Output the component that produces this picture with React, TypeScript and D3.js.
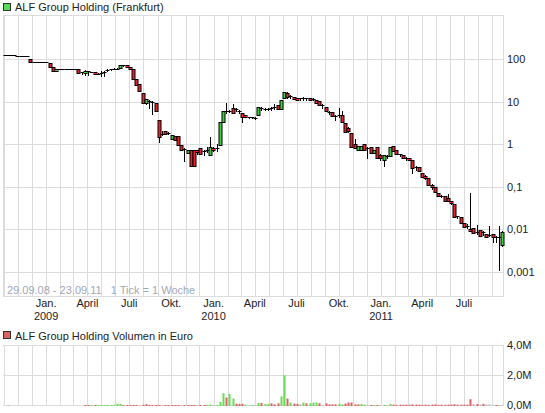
import React from "react";
import * as d3 from "d3";

const W = 545;
const H = 413;

// weekly candles, first week starting 29.09.2008
const startDate = new Date(2008, 8, 29);
const endDate = new Date(2011, 8, 24);

const open = [
  125,125,125,125,122,120,118,117,101,86,86,86,86,86,80,65,54,60,60,60,60,60,60,60,49,47,52,50,51,45,
  47,49,54,58,59,60,62,73,72,66,58,34,26,16,9.4,10.5,10,9.5,3.7,1.7,2.1,1.8,1.3,1.6,1.6,0.97,0.78,0.61,0.74,0.72,
  0.74,0.83,0.7,0.7,0.55,0.8,0.8,0.97,3.4,6.2,5.8,7.0,6.5,6.2,5.5,4.9,4.3,4.3,4.2,4.9,7.2,6.8,6.7,6.8,7.2,8.2,6.9,12,15.8,13.5,
  13.2,12.3,11.5,12,11.8,12.2,11.5,11,10.5,8.5,7.5,5.6,5.6,4.6,4.9,4.9,3.1,2.4,1.8,1.0,0.74,0.74,1.0,0.8,0.84,0.61,0.84,0.55,0.43,0.52,
  0.53,0.9,0.74,0.59,0.55,0.48,0.48,0.42,0.29,0.29,0.215,0.18,0.16,0.11,0.1,0.072,0.06,0.062,0.053,0.045,0.039,0.02,0.019,0.0143,0.012,0.01,0.0105,0.0085,0.0095,0.0085,
  0.0078,0.0075,0.0078,0.0066,0.0066,0.0042,
];
const high = [
  125,125,128,125,122,120,118,117,101,86,86,86,86,86,80,65,60,60,60,60,60,60,60,60,49,56,54,51,51,47,
  52,52,58,60,61,61,73,75,74,66,58,34,26,16,11.8,11.2,10.2,9.6,3.7,2.0,2.1,1.9,1.65,1.6,1.6,0.97,0.83,0.74,0.74,0.74,
  0.75,0.83,0.74,0.85,1.52,0.88,1.0,3.4,6.1,9.3,6.3,8.9,7.2,6.5,5.5,4.9,4.4,4.5,4.4,7.6,7.7,7.2,7.0,7.4,8.9,8.2,11,17.3,17,14.5,
  13.2,12.3,12.5,12.8,12.6,12.2,12.3,11,10.5,9,7.5,6,5.6,4.8,7.2,6.1,3.1,2.6,1.8,1.3,0.9,0.9,1.0,0.84,0.84,0.74,0.84,0.6,0.56,0.56,
  0.85,0.9,0.74,0.6,0.55,0.5,0.48,0.42,0.31,0.29,0.215,0.19,0.16,0.115,0.1,0.072,0.065,0.062,0.068,0.046,0.039,0.021,0.019,0.0143,0.013,0.07,0.0105,0.0125,0.0095,0.009,
  0.0078,0.012,0.0078,0.0068,0.012,0.0089,
];
const low = [
  125,125,125,125,122,120,118,117,88,86,86,86,86,86,65,54,54,60,60,60,60,60,60,47,46,43,42,49,45,44,
  40,40,53,57,58,59,62,68,65,58,34,25,18,9.5,8.8,7.1,5.1,6.1,1.16,1.65,1.75,1.75,1.3,1.26,0.97,0.75,0.41,0.61,0.31,0.31,
  0.6,0.6,0.57,0.65,0.55,0.68,0.68,0.97,3.4,5.5,5.6,5.5,6.2,5.4,3.4,4.4,4.1,4.1,4.0,4.9,6.4,6.3,6.4,6.4,6.9,6.9,6.9,12,12,12.5,
  11.6,11,10.8,11.2,11.3,11,10.8,9.5,8.4,7.1,6.1,5.2,4.6,3.75,4.5,3.3,1.9,1.9,0.85,0.83,0.74,0.74,0.74,0.48,0.61,0.61,0.47,0.43,0.31,0.48,
  0.53,0.69,0.6,0.52,0.48,0.43,0.43,0.215,0.25,0.23,0.17,0.15,0.11,0.09,0.077,0.059,0.057,0.046,0.046,0.04,0.019,0.018,0.0143,0.0114,0.0105,0.0089,0.008,0.0078,0.0068,0.0075,
  0.0066,0.0068,0.0049,0.0049,0.0011,0.0041,
];
const close = [
  125,125,125,125,122,120,118,117,88,86,86,86,86,86,65,54,60,60,60,60,60,60,60,47,47,52,50,50,45,46,
  47,51,56,59,60,60,72,68,66,58,34,25,18,9.5,11.5,10.2,9.6,6.1,1.5,1.75,1.75,1.78,1.65,1.26,0.97,0.75,0.76,0.74,0.31,0.31,
  0.65,0.6,0.65,0.72,0.86,0.75,0.8,3.4,6.1,5.7,6.0,5.5,6.9,5.8,4.3,4.4,4.2,4.3,4.2,7.6,7.0,6.6,6.8,7.0,7.5,6.9,11,17.3,13.2,13,
  11.6,11,12,11.6,12,11,11.3,9.5,8.4,8.2,6.1,5.4,4.6,4.3,4.6,3.3,1.9,2.0,0.85,0.83,0.9,0.9,0.74,0.76,0.61,0.74,0.47,0.48,0.56,0.5,
  0.85,0.69,0.6,0.55,0.48,0.46,0.43,0.28,0.27,0.23,0.17,0.16,0.11,0.1,0.077,0.059,0.058,0.046,0.046,0.042,0.019,0.019,0.0143,0.0114,0.011,0.0092,0.008,0.0082,0.0068,0.008,
  0.0066,0.0072,0.0066,0.0066,0.0066,0.0088,
];

// weekly turnover in million euro, and its colour class (u = up, d = down, n = unchanged)
const volume = [
  0,0.01,0,0,0,0,0,0,0,0,0,0,0,0,0,0,0,0,0,0,0,0,0,0,0,0.05,0.05,0.05,0.05,0.06,
  0.06,0.05,0.06,0.06,0.08,0.15,0.14,0.05,0.05,0.04,0.05,0.05,0.03,0.08,0.12,0.08,0.06,0.06,0.05,0.03,0.05,0.05,0.06,0.06,0.05,0.03,0.05,0.05,0.05,0.06,
  0.03,0.05,0.05,0.08,0.1,0.03,0.04,0.27,0.86,0.57,0.8,0.5,0.16,0.14,0.14,0.09,0.05,0.05,0.05,0.2,0.2,0.14,0.14,0.18,0.11,0.18,0.64,2.05,0.5,0.23,
  0.16,0.14,0.14,0.23,0.18,0.18,0.23,0.23,0.18,0.05,0.18,0.11,0.11,0.11,0.14,0.11,0.16,0.23,0.23,0.11,0.11,0.14,0.09,0.05,0.07,0.05,0.07,0.05,0.06,0.04,
  0.14,0.09,0.08,0.09,0.08,0.09,0.08,0.11,0.1,0.09,0.08,0.09,0.08,0.09,0.11,0.08,0.09,0.08,0.09,0.09,0.12,0.09,0.09,0.08,0.09,0.45,0.14,0.14,0.11,0.14,
  0.11,0.11,0.07,0.05,0.05,0.03,
];
const volDir = [
  "n","n","n","n","n","n","n","n","n","n","n","n","n","n","n","n","n","n","n","n","n","n","n","n","n","d","d","u","d","u",
  "u","u","u","u","u","u","u","d","d","d","d","d","n","d","d","d","d","d","d","n","d","d","d","d","d","n","d","d","d","d",
  "n","d","d","u","u","n","u","u","u","d","u","u","d","d","d","u","n","u","n","u","d","u","u","d","d","d","u","u","d","u",
  "d","d","n","u","d","u","u","u","d","n","d","d","d","d","u","u","d","d","d","d","d","u","u","n","d","u","d","n","u","n",
  "u","d","d","d","d","d","d","d","d","d","d","d","d","d","d","d","d","d","d","d","d","d","d","d","d","d","n","d","n","d",
  "n","n","n","d","n","n",
];

const priceTicks = [100, 10, 1, 0.1, 0.01, 0.001];
const priceTickLabels = ["100", "10", "1", "0,1", "0,01", "0,001"];
const volTicks = [4, 2, 0];
const volTickLabels = ["4,0M", "2,0M", "0,0M"];
const monthNames = ["Jan.", "April", "Juli", "Okt."];

const FONT = "'Liberation Sans', Arial, sans-serif";
const GRID = "#dcdcdc";
const RED = "#e8232b";
const GREEN = "#3ad23a";
const VRED = "#dd6262";
const VGREEN = "#66dd55";
const VGRAY = "#c0c0c0";

export default function App() {
  const left = 3;
  const right = 503;
  const pTop = 15;
  const pBottom = 296;
  const vTop = 345;
  const vBottom = 405;

  const x = d3.scaleTime().domain([startDate, endDate]).range([left, right]);
  const y = d3.scaleLog().domain([0.001, 100]).range([271.7, 59.3]);
  const yv = d3.scaleLinear().domain([0, 4]).range([vBottom, vTop]);

  const weeks = d3.range(open.length).map((i) => d3.timeDay.offset(startDate, 7 * i));
  const cx = (i: number) => Math.round(x(d3.timeHour.offset(weeks[i], 84)));
  const months = d3.timeMonth.range(new Date(2008, 9, 1), new Date(2011, 9, 1));
  const quarters = months.filter((m) => m.getMonth() % 3 === 0 && m >= new Date(2009, 0, 1));
  const c = (v: number) => Math.round(v) + 0.5;

  return (
    <svg
      width={W}
      height={H}
      style={{ position: "absolute", left: 0, top: 0, background: "#fff" }}
      fontFamily={FONT}
    >
      {/* legend */}
      <rect x={3.5} y={3.5} width={7} height={7} fill="#55dd55" stroke="#333" />
      <text x={15} y={11} fontSize={11} fill="#222">ALF Group Holding (Frankfurt)</text>

      {/* price grid */}
      {months.map((m, i) => (
        <line key={"pg" + i} x1={c(x(m))} x2={c(x(m))} y1={pTop} y2={pBottom} stroke={GRID} />
      ))}
      {priceTicks.map((t, i) => (
        <line key={"ph" + i} x1={left} x2={right} y1={c(y(t))} y2={c(y(t))} stroke={GRID} />
      ))}
      <rect x={left + 0.5} y={pTop + 0.5} width={right - left} height={pBottom - pTop} fill="none" stroke={GRID} />

      <text x={7} y={294} fontSize={11} fill="#9fa8b8" style={{ whiteSpace: "pre" }}>
        {"29.09.08 - 23.09.11   1 Tick = 1 Woche"}
      </text>

      {/* candles */}
      {open.map((o, i) => {
        const cl = close[i];
        const xc = cx(i);
        const yh = y(high[i]);
        const yl = y(low[i]);
        const yo = y(o);
        const yc = y(cl);
        const top = Math.round(Math.min(yo, yc));
        const bot = Math.round(Math.max(yo, yc));
        const wick = Math.round(yl) - Math.round(yh) >= 1 ? (
          <line x1={xc + 0.5} x2={xc + 0.5} y1={Math.round(yh)} y2={Math.round(yl) + 1} stroke="#000" />
        ) : null;
        if (bot - top < 2) {
          return (
            <g key={"c" + i}>
              {wick}
              <rect x={xc - 1.5} y={top} width={4} height={1} fill="#000" />
            </g>
          );
        }
        return (
          <g key={"c" + i}>
            {wick}
            <rect
              x={xc - 1}
              y={top + 0.5}
              width={3}
              height={bot - top}
              fill={cl > o ? GREEN : RED}
              stroke="#000"
            />
          </g>
        );
      })}

      {/* price axis labels */}
      {priceTicks.map((t, i) => (
        <text key={"pl" + i} x={507} y={y(t) + 4} fontSize={11} fill="#222">{priceTickLabels[i]}</text>
      ))}
      {quarters.map((q, i) => (
        <g key={"q" + i}>
          <text x={x(q)} y={307} fontSize={11} fill="#222" textAnchor="middle">{monthNames[q.getMonth() / 3]}</text>
          {q.getMonth() === 0 && (
            <text x={x(q)} y={320} fontSize={11} fill="#222" textAnchor="middle">{q.getFullYear()}</text>
          )}
        </g>
      ))}

      {/* volume legend */}
      <rect x={3.5} y={331.5} width={7} height={7} fill={VRED} stroke="#333" />
      <text x={15} y={339.5} fontSize={11} fill="#222">ALF Group Holding Volumen in Euro</text>

      {/* volume grid */}
      {months.map((m, i) => (
        <line key={"vg" + i} x1={c(x(m))} x2={c(x(m))} y1={vTop} y2={vBottom} stroke={GRID} />
      ))}
      {volTicks.map((t, i) => (
        <line key={"vh" + i} x1={left} x2={right} y1={c(yv(t))} y2={c(yv(t))} stroke={GRID} />
      ))}
      <line x1={right + 0.5} x2={right + 0.5} y1={vTop} y2={vBottom} stroke={GRID} />

      {volume.map((v, i) => {
        if (v <= 0) return null;
        const yt = yv(v);
        const h = Math.max(1, vBottom - yt);
        const col = volDir[i] === "u" ? VGREEN : volDir[i] === "d" ? VRED : VGRAY;
        return <rect key={"v" + i} x={cx(i) - 0.5} y={vBottom + 1 - h} width={2} height={h} fill={col} />;
      })}

      {volTicks.map((t, i) => (
        <text key={"vl" + i} x={507} y={yv(t) + 4} fontSize={11} fill="#222">{volTickLabels[i]}</text>
      ))}
    </svg>
  );
}
